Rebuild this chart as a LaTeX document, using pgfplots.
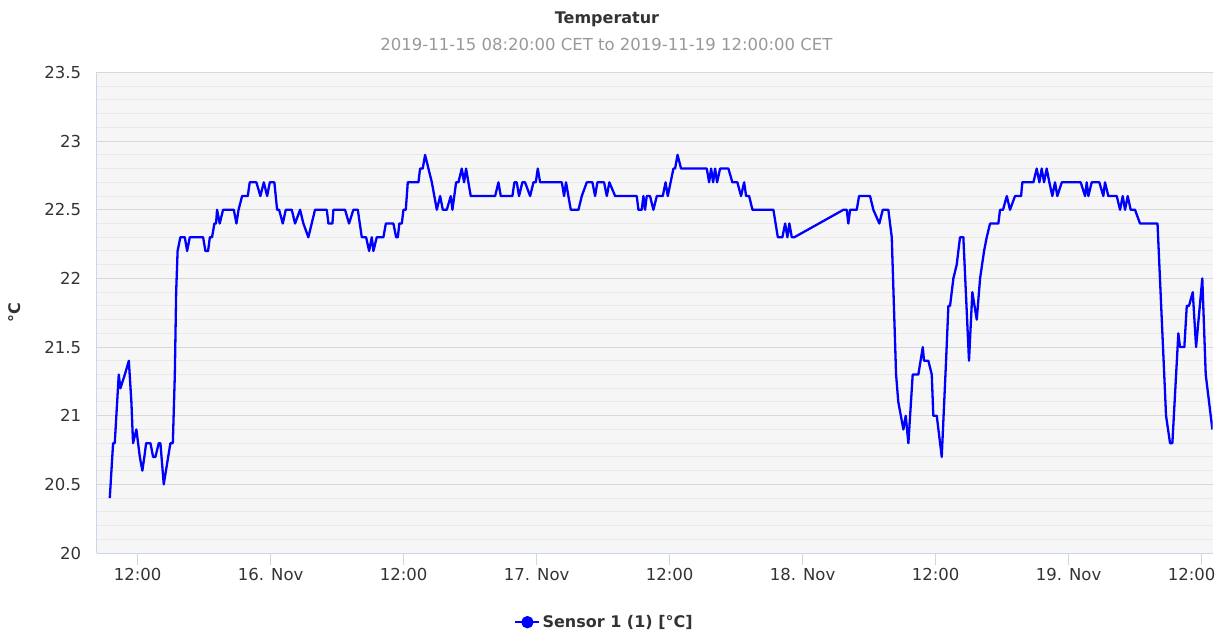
\documentclass[border=0pt]{standalone}
\usepackage{fontspec}
\setmainfont{DejaVu Sans}
\usepackage{pgfplots}
\pgfplotsset{compat=1.18}
\definecolor{axisblue}{HTML}{CCD6EB}
\definecolor{plotbg}{HTML}{F6F6F6}
\definecolor{majgrid}{HTML}{D8D8D8}
\definecolor{mingrid}{HTML}{E9E9E9}
\definecolor{labelgray}{HTML}{333333}
\definecolor{subgray}{HTML}{999999}
\definecolor{serieblue}{HTML}{0000FF}
\begin{document}
\begin{tikzpicture}
\useasboundingbox (0,0) rectangle (1217bp,633bp);
\node[anchor=base, font=\bfseries\fontsize{16bp}{19bp}\selectfont, text=labelgray] at (607bp,609bp) {Temperatur};
\node[anchor=base, font=\fontsize{16.5bp}{19bp}\selectfont, text=subgray] at (606.5bp,582bp) {2019-11-15 08:20:00 CET to 2019-11-19 12:00:00 CET};
\begin{axis}[
  scale only axis, width=1116bp, height=480.5bp,
  at={(96.7bp,80bp)}, anchor=south west,
  xmin=8.3, xmax=109, ymin=20, ymax=23.5,
  axis lines*=left,
  axis line style={draw=axisblue, line width=1bp},
  axis background/.style={fill=plotbg},
  xtick={12,24,36,48,60,72,84,96,108},
  xticklabels={12:00,16. Nov,12:00,17. Nov,12:00,18. Nov,12:00,19. Nov,\hspace*{-20bp}12:00},
  ytick={20,20.5,21,21.5,22,22.5,23,23.5},
  minor y tick num=4,
  ymajorgrids, yminorgrids,
  major grid style={draw=majgrid, line width=1bp},
  minor grid style={draw=mingrid, line width=1bp},
  tick align=outside,
  major tick length=12bp,
  xtick style={draw=axisblue, line width=1bp},
  ytick style={draw=none},
  minor tick style={draw=none},
  /pgf/number format/assume math mode=true,
  /pgf/number format/fixed,
  /pgf/number format/precision=1,
  xticklabel style={font=\fontsize{16.5bp}{19bp}\selectfont, text=labelgray, anchor=north},
  yticklabel style={font=\fontsize{16.5bp}{19bp}\selectfont, text=labelgray, anchor=east},
  ylabel={°C},
  ylabel style={font=\bfseries\fontsize{16bp}{19bp}\selectfont, text=labelgray, at={(axis description cs:-0.0732,0.5)}, anchor=center},
  legend style={at={(axis description cs:0.455,-0.144)}, anchor=center, draw=none, fill=none,
    font=\bfseries\fontsize{16bp}{19bp}\selectfont, text=labelgray},
  legend image code/.code={\draw[serieblue, line width=2.3bp] (0bp,0bp) -- (24bp,0bp); \fill[serieblue] (12bp,0bp) circle (5bp);},
]
\addplot[color=serieblue, line width=2.3bp, line join=round, no marks] coordinates {
(9.48,20.4)(9.78,20.8)(9.93,20.8)(10.29,21.3)(10.44,21.2)(10.84,21.3)(11.2,21.4)(11.43,21.1)
(11.58,20.8)(11.88,20.9)(12.19,20.7)(12.42,20.6)(12.6,20.7)(12.76,20.8)(13.15,20.8)(13.39,20.7)
(13.6,20.7)(13.9,20.8)(14.05,20.8)(14.35,20.5)(14.75,20.7)(14.95,20.8)(15.17,20.8)(15.35,21.3)
(15.47,21.9)(15.6,22.2)(15.85,22.3)(16.25,22.3)(16.46,22.2)(16.7,22.3)(17.9,22.3)(18.11,22.2)
(18.35,22.2)(18.51,22.3)(18.71,22.3)(18.92,22.4)(19.07,22.4)(19.16,22.5)(19.4,22.4)(19.7,22.5)
(20.67,22.5)(20.91,22.4)(21.1,22.5)(21.42,22.6)(21.93,22.6)(22.11,22.7)(22.71,22.7)(23.07,22.6)
(23.38,22.7)(23.68,22.6)(23.92,22.7)(24.33,22.7)(24.58,22.5)(24.76,22.5)(25.09,22.4)(25.36,22.5)
(25.9,22.5)(26.2,22.4)(26.65,22.5)(26.95,22.4)(27.4,22.3)(28.0,22.5)(29.06,22.5)(29.21,22.4)
(29.57,22.4)(29.66,22.5)(30.71,22.5)(31.07,22.4)(31.46,22.5)(31.86,22.5)(32.22,22.3)(32.61,22.3)
(32.88,22.2)(33.12,22.3)(33.27,22.2)(33.57,22.3)(34.17,22.3)(34.39,22.4)(35.07,22.4)(35.32,22.3)
(35.47,22.3)(35.61,22.4)(35.83,22.4)(35.98,22.5)(36.19,22.5)(36.37,22.7)(37.33,22.7)(37.48,22.8)
(37.72,22.8)(37.93,22.9)(38.54,22.7)(38.99,22.5)(39.29,22.6)(39.53,22.5)(39.89,22.5)(40.25,22.6)
(40.4,22.5)(40.73,22.7)(40.94,22.7)(41.24,22.8)(41.45,22.7)(41.63,22.8)(42.05,22.6)(44.25,22.6)
(44.55,22.7)(44.76,22.6)(45.81,22.6)(45.99,22.7)(46.2,22.7)(46.41,22.6)(46.71,22.7)(46.95,22.7)
(47.41,22.6)(47.71,22.7)(47.92,22.7)(48.1,22.8)(48.31,22.7)(50.27,22.7)(50.47,22.6)(50.65,22.7)
(50.86,22.6)(51.08,22.5)(51.77,22.5)(52.07,22.6)(52.52,22.7)(53.03,22.7)(53.27,22.6)(53.48,22.7)
(54.08,22.7)(54.33,22.6)(54.56,22.7)(55.08,22.6)(57.03,22.6)(57.18,22.5)(57.48,22.5)(57.63,22.6)
(57.78,22.5)(57.93,22.6)(58.23,22.6)(58.53,22.5)(58.84,22.6)(59.38,22.6)(59.63,22.7)(59.83,22.6)
(60.34,22.8)(60.49,22.8)(60.71,22.9)(61.03,22.8)(63.35,22.8)(63.56,22.7)(63.74,22.8)(63.92,22.7)
(64.1,22.8)(64.28,22.7)(64.55,22.8)(65.3,22.8)(65.66,22.7)(66.11,22.7)(66.44,22.6)(66.72,22.7)
(66.9,22.6)(67.17,22.6)(67.47,22.5)(69.36,22.5)(69.76,22.3)(70.17,22.3)(70.42,22.4)(70.62,22.3)
(70.8,22.4)(71.02,22.3)(71.25,22.3)(75.68,22.5)(75.98,22.5)(76.12,22.4)(76.28,22.5)(76.88,22.5)
(77.09,22.6)(78.08,22.6)(78.38,22.5)(78.92,22.4)(79.23,22.5)(79.73,22.5)(80.04,22.3)(80.43,21.3)
(80.63,21.1)(81.09,20.9)(81.3,21.0)(81.54,20.8)(81.93,21.3)(82.44,21.3)(82.84,21.5)(82.95,21.4)
(83.34,21.4)(83.65,21.3)(83.79,21.0)(84.1,21.0)(84.55,20.7)(84.94,21.4)(85.15,21.8)(85.3,21.8)
(85.6,22.0)(85.9,22.1)(86.2,22.3)(86.5,22.3)(87.01,21.4)(87.31,21.9)(87.71,21.7)(88.01,22.0)
(88.37,22.2)(88.61,22.3)(88.91,22.4)(89.66,22.4)(89.81,22.5)(90.08,22.5)(90.42,22.6)(90.71,22.5)
(91.16,22.6)(91.71,22.6)(91.82,22.7)(92.82,22.7)(93.12,22.8)(93.36,22.7)(93.57,22.8)(93.78,22.7)
(94.02,22.8)(94.26,22.7)(94.53,22.6)(94.77,22.7)(94.98,22.6)(95.38,22.7)(97.09,22.7)(97.48,22.6)
(97.63,22.7)(97.78,22.6)(98.08,22.7)(98.77,22.7)(99.13,22.6)(99.28,22.7)(99.58,22.6)(100.34,22.6)
(100.64,22.5)(100.88,22.6)(101.09,22.5)(101.33,22.6)(101.6,22.5)(101.99,22.5)(102.44,22.4)(104.02,22.4)
(104.79,21.0)(105.15,20.8)(105.36,20.8)(105.9,21.6)(106.05,21.5)(106.44,21.5)(106.66,21.8)(106.86,21.8)
(107.2,21.9)(107.5,21.5)(108.06,22.0)(108.37,21.3)(108.97,20.9)
};
\addlegendentry{Sensor 1 (1) [°C]}
\end{axis}
\end{tikzpicture}
\end{document}
